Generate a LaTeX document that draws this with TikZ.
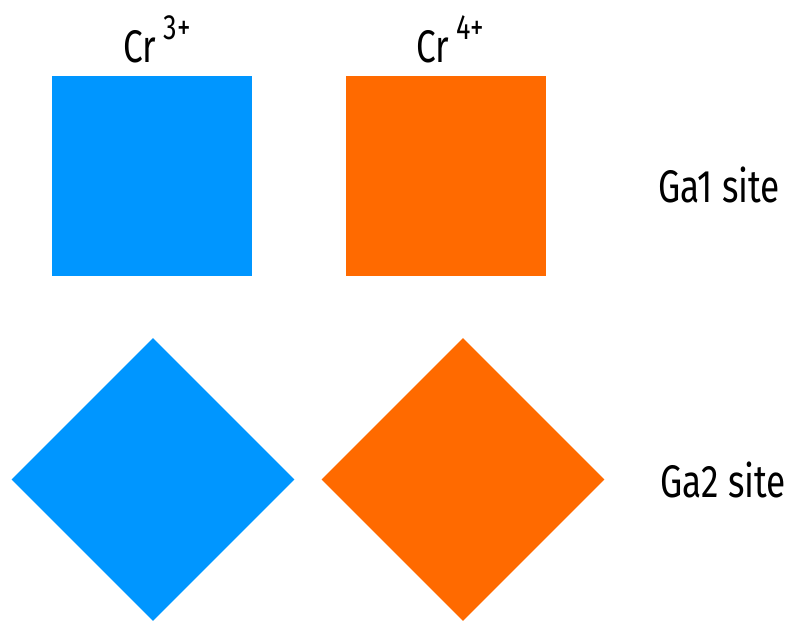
\documentclass[tikz,border=0pt]{standalone}
\usepackage{fontspec}
\setmainfont{Fira Sans}[FakeStretch=0.77]
\usepackage{tikz}
\definecolor{crblue}{HTML}{0096FF}
\definecolor{crorange}{HTML}{FF6A00}
\newcommand{\ionlabel}[1]{Cr\,\raisebox{0.5em}{\fontsize{20}{22}\selectfont #1}}

\begin{document}
\begin{tikzpicture}[
  site/.style={rectangle,minimum size=4cm,inner sep=0pt,draw=none},
  label/.style={font=\fontsize{26}{30}\selectfont,inner sep=0pt}
]
  \useasboundingbox (0,0) rectangle (15.9,-12.4);
  \node[label] (c3) at (3.14,-0.78) {\ionlabel{3+}};
  \node[label] (c4) at (9.0,-0.78)  {\ionlabel{4+}};
  \node[site,fill=crblue]   (b1) at (3.04,-3.52) {};
  \node[site,fill=crorange] (o1) at (8.91,-3.52) {};
  \node[site,fill=crblue,rotate=45]   (b2) at (3.06,-9.59) {};
  \node[site,fill=crorange,rotate=45] (o2) at (9.26,-9.59) {};
  \node[label] (g1) at (14.38,-3.7) {Ga1 site};
  \node[label] (g2) at (14.46,-9.6) {Ga2 site};
\end{tikzpicture}
\end{document}
